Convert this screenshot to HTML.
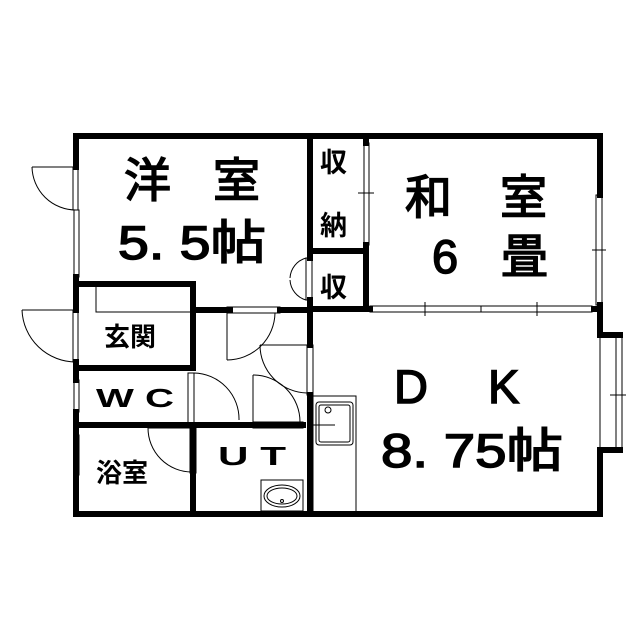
<!DOCTYPE html>
<html><head><meta charset="utf-8"><style>
body{margin:0;background:#fff}
svg{display:block}
text{font-family:"Liberation Sans","Noto Sans CJK JP",sans-serif;fill:#000}
</style></head><body>
<svg width="640" height="640" viewBox="0 0 640 640" xmlns="http://www.w3.org/2000/svg">
<rect width="640" height="640" fill="#fff"/>
<g stroke="#000" stroke-width="6" fill="none" stroke-linecap="square">
<polyline points="76,136 600,136 600,195"/>
<polyline points="600,305 600,335 620,335"/>
<polyline points="620,450 600,450 600,514 76,514 76,425"/>
<line x1="76" y1="136" x2="76" y2="167"/>
<line x1="76" y1="277" x2="76" y2="310"/>
<line x1="76" y1="362" x2="76" y2="380"/>
<line x1="76" y1="412" x2="76" y2="435"/>
<line x1="76" y1="475" x2="76" y2="514"/>
<polyline points="76,284 193,284 193,368 76,368"/>
<line x1="193" y1="310" x2="230" y2="310"/>
<line x1="280" y1="310" x2="310" y2="310"/>
<line x1="76" y1="425" x2="303" y2="425"/>
<line x1="193" y1="425" x2="193" y2="514"/>
<line x1="310" y1="136" x2="310" y2="258"/>
<line x1="310" y1="300" x2="310" y2="345"/>
<line x1="310" y1="395" x2="310" y2="514"/>
<line x1="310" y1="251" x2="366" y2="251"/>
<line x1="366" y1="136" x2="366" y2="143"/>
<line x1="366" y1="245" x2="366" y2="309"/>
<line x1="310" y1="309" x2="370" y2="309"/>
<line x1="594" y1="309" x2="600" y2="309"/>
</g>
<g stroke="#000" stroke-width="1" fill="none">
<rect x="74" y="210" width="5" height="67"/>
<rect x="74" y="380" width="5" height="32"/>
<rect x="74" y="435" width="5" height="40"/>
<rect x="364" y="143" width="5" height="102"/>
<line x1="358" y1="193" x2="374" y2="193"/>
<rect x="596" y="195" width="6" height="110"/>
<line x1="592" y1="250" x2="606" y2="250"/>
<rect x="600" y="337" width="22" height="112"/>
<line x1="616" y1="337" x2="616" y2="449"/>
<line x1="610" y1="395" x2="626" y2="395"/>
<rect x="370" y="306" width="222" height="6"/>
<line x1="481" y1="306" x2="481" y2="312"/>
<line x1="425" y1="302" x2="425" y2="316"/><line x1="537" y1="302" x2="537" y2="316"/>
<line x1="76" y1="167" x2="32" y2="167"/><path d="M32,167 A44,44 0 0 0 76,210"/>
<rect x="73" y="167" width="5" height="43"/>
<line x1="76" y1="310" x2="22" y2="310"/><path d="M22,310 A54,54 0 0 0 76,362"/>
<rect x="73" y="310" width="5" height="52"/>
<polyline points="96,287 96,312 190,312"/>
<rect x="227" y="307" width="53" height="6"/>
<line x1="227" y1="313" x2="227" y2="360"/>
<path d="M227,360 A48,48 0 0 0 275,313"/>
<rect x="306" y="258" width="6" height="42"/>
<path d="M306,258 A22,22 0 0 0 290,278 M306,300 A22,22 0 0 1 290,280"/>
<rect x="307" y="345" width="6" height="50"/>
<line x1="307" y1="345" x2="260" y2="345"/><path d="M260,345 A48,48 0 0 0 307,393"/>
<rect x="188" y="373" width="6" height="50"/>
<path d="M194,373 A46,46 0 0 1 239,420"/>
<rect x="253" y="422" width="50" height="6"/>
<line x1="253" y1="422" x2="253" y2="375"/><path d="M253,375 A47,47 0 0 1 300,422"/>
<rect x="190" y="428" width="6" height="45"/>
<path d="M148,428 A44,44 0 0 0 192,472"/>
<line x1="148" y1="428" x2="190" y2="428"/>
<rect x="261" y="480" width="42" height="31"/>
<ellipse cx="282" cy="496" rx="18" ry="11"/>
<ellipse cx="282" cy="496" rx="15" ry="8"/>
<circle cx="282" cy="501" r="1.5"/>
<rect x="313" y="396" width="43" height="118"/>
<rect x="316" y="402" width="37" height="43" rx="3"/>
<rect x="319" y="405" width="31" height="37" rx="2"/>
<circle cx="328" cy="410" r="3"/>
<line x1="313" y1="425" x2="335" y2="425"/>
</g>
<g font-size="47" stroke="#000" stroke-width="1.5">
<text x="124" y="197">洋</text><text x="213" y="197">室</text>
<text x="118" y="259" textLength="148" lengthAdjust="spacingAndGlyphs">5. 5帖</text>
<text x="405" y="214">和</text><text x="500" y="214">室</text>
<text x="432" y="273">6</text><text x="501" y="273">畳</text>
<text x="394" y="403">D</text><text x="488" y="403">K</text>
<text x="381" y="467" textLength="182" lengthAdjust="spacingAndGlyphs">8. 75帖</text>
</g>
<g font-size="27" font-weight="bold">
<text x="320" y="172">収</text><text x="320" y="235">納</text><text x="320" y="297">収</text>
</g>
<g font-size="26" font-weight="bold">
<text x="104" y="346">玄関</text>
<text x="96" y="407" textLength="78" lengthAdjust="spacingAndGlyphs">W C</text>
<text x="96" y="482">浴室</text>
<text x="218" y="465" textLength="68" lengthAdjust="spacingAndGlyphs">U T</text>
</g>
</svg>
</body></html>
